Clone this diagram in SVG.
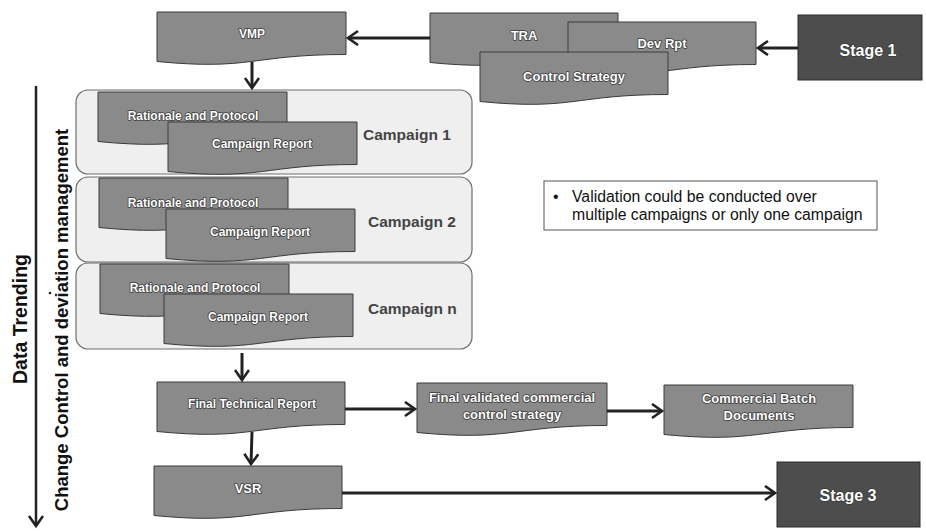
<svg xmlns="http://www.w3.org/2000/svg" width="926" height="531" viewBox="0 0 926 531">
<style>
.doc{fill:#8a8a8a;stroke:#3a3a3a;stroke-width:1}
.stage{fill:#4d4d4d;stroke:#2a2a2a;stroke-width:1}
.camp{fill:#efefef;stroke:#6e6e6e;stroke-width:1.2}
.t{font-family:"Liberation Sans",Arial,sans-serif;font-weight:bold;fill:#fff;stroke:#3a3a3a;stroke-width:1.6;paint-order:stroke;stroke-linejoin:round;text-anchor:middle}
.s12{font-size:12px}.s13{font-size:13px}.s16{font-size:16px}
.lbl{font-family:"Liberation Sans",Arial,sans-serif;font-weight:bold;font-size:15.5px;fill:#444}
.side{font-family:"Liberation Sans",Arial,sans-serif;font-weight:bold;fill:#111;text-anchor:middle}
.note{font-family:"Liberation Sans",Arial,sans-serif;font-size:15.8px;fill:#111}
.c{stroke:#222;stroke-width:3;fill:none;marker-end:url(#ah)}
</style>
<defs>
<marker id="ah" markerUnits="userSpaceOnUse" markerWidth="16" markerHeight="18" refX="11" refY="8" orient="auto">
<path d="M1,1 L11,8 L1,15" fill="none" stroke="#222" stroke-width="2.6"/>
</marker>
</defs>
<rect width="926" height="531" fill="#fff"/>

<g id="campaign-1"><rect class="camp" x="76" y="90" width="396" height="84" rx="12"/></g>
<g id="campaign-2"><rect class="camp" x="76" y="177" width="396" height="85" rx="12"/></g>
<g id="campaign-n"><rect class="camp" x="76" y="263" width="396" height="86" rx="12"/></g>

<g id="vmp"><path class="doc" d="M157,12 H346 V54.5 C251.5,54.5 251.5,70.7 157,61.5 Z"/><text class="t s12" x="252" y="37.5">VMP</text></g>
<g id="tra"><path class="doc" d="M430,13 H618 V55.5 C524,55.5 524,71.7 430,62.5 Z"/><text class="t s13" x="524" y="39.5">TRA</text></g>
<g id="dev-rpt"><path class="doc" d="M568,22 H756 V64.5 C662,64.5 662,80.7 568,71.5 Z"/><text class="t s13" x="662" y="47.5">Dev Rpt</text></g>
<g id="control-strategy"><path class="doc" d="M480,52 H668 V94.5 C574,94.5 574,110.7 480,101.5 Z"/><text class="t s13" x="574" y="80.5">Control Strategy</text></g>
<g id="stage-1"><rect class="stage" x="798" y="15" width="124" height="65"/><text class="t s16" x="868" y="55.5">Stage 1</text></g>

<g id="rp-1"><path class="doc" d="M98,92 H287 V134.5 C192.5,134.5 192.5,150.7 98,141.5 Z"/><text class="t s12" x="193" y="120">Rationale and Protocol</text></g>
<g id="cr-1"><path class="doc" d="M168,122 H357 V164.5 C262.5,164.5 262.5,180.7 168,171.5 Z"/><text class="t s12" x="262" y="148">Campaign Report</text></g>
<text class="lbl" x="363" y="139.5">Campaign 1</text>

<g id="rp-2"><path class="doc" d="M99,178 H288 V220.5 C193.5,220.5 193.5,236.7 99,227.5 Z"/><text class="t s12" x="193" y="207">Rationale and Protocol</text></g>
<g id="cr-2"><path class="doc" d="M166,209 H355 V251.5 C260.5,251.5 260.5,267.7 166,258.5 Z"/><text class="t s12" x="260" y="236">Campaign Report</text></g>
<text class="lbl" x="368" y="226.5">Campaign 2</text>

<g id="rp-n"><path class="doc" d="M100,264 H289 V306.5 C194.5,306.5 194.5,322.7 100,313.5 Z"/><text class="t s12" x="195" y="292">Rationale and Protocol</text></g>
<g id="cr-n"><path class="doc" d="M164,294 H353 V336.5 C258.5,336.5 258.5,352.7 164,343.5 Z"/><text class="t s12" x="258" y="321">Campaign Report</text></g>
<text class="lbl" x="368" y="313.5">Campaign n</text>

<g id="note"><rect x="544" y="181" width="333" height="49" fill="#fff" stroke="#555" stroke-width="1"/>
<text class="note" x="553" y="202">•</text>
<text class="note" x="572" y="202">Validation could be conducted over</text>
<text class="note" x="572" y="220">multiple campaigns or only one campaign</text></g>

<g id="ftr"><path class="doc" d="M157,382 H345 V424.5 C251,424.5 251,440.7 157,431.5 Z"/><text class="t s12" x="252" y="408">Final Technical Report</text></g>
<g id="fvcs"><path class="doc" d="M417,383 H607 V425.5 C512,425.5 512,441.7 417,432.5 Z"/><text class="t s13" x="512" y="401.5">Final validated commercial</text><text class="t s13" x="512" y="418.5">control strategy</text></g>
<g id="cbd"><path class="doc" d="M664,385 H853 V427.5 C758.5,427.5 758.5,443.7 664,434.5 Z"/><text class="t s13" x="759" y="402.5">Commercial Batch</text><text class="t s13" x="759" y="419.5">Documents</text></g>
<g id="vsr"><path class="doc" d="M154,466 H342 V508.5 C248,508.5 248,524.7 154,515.5 Z"/><text class="t s13" x="248" y="492.5">VSR</text></g>
<g id="stage-3"><rect class="stage" x="777" y="462" width="143" height="65"/><text class="t s16" x="848" y="500.5">Stage 3</text></g>

<g id="side-labels">
<text class="side" font-size="19.5" transform="translate(27,319) rotate(-90)">Data Trending</text>
<text class="side" font-size="18.5" transform="translate(68,320) rotate(-90)">Change Control and deviation management</text>
<circle cx="50" cy="293" r="1.3" fill="#222"/>
</g>

<g id="connectors">
<line class="c" x1="430" y1="38" x2="348" y2="38"/>
<line class="c" x1="798" y1="48" x2="758" y2="48"/>
<line class="c" x1="252" y1="62" x2="252" y2="88"/>
<line class="c" x1="242" y1="353" x2="242" y2="380"/>
<line class="c" x1="252" y1="432" x2="251" y2="464"/>
<line class="c" x1="345" y1="409" x2="415" y2="409"/>
<line class="c" x1="607" y1="411" x2="662" y2="411"/>
<line class="c" x1="342" y1="493" x2="775" y2="493"/>
<line class="c" style="stroke-width:2.5" x1="36" y1="86" x2="36" y2="526"/>
</g>
</svg>
